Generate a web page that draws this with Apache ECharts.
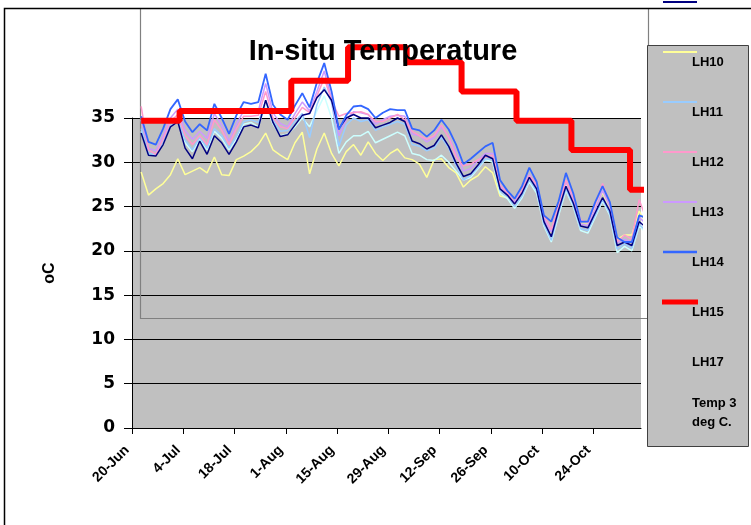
<!DOCTYPE html>
<html>
<head>
<meta charset="utf-8">
<title>In-situ Temperature</title>
<script src="https://cdn.jsdelivr.net/npm/echarts@6/dist/echarts.min.js"></script>
<style>
  html, body { margin: 0; padding: 0; background: #ffffff; }
  #chart { width: 751px; height: 525px; }
</style>
</head>
<body>
<div id="chart"></div>
<script>
// Axis tick labels, one every 14 days starting 20-Jun (day 0)
const tickLabels = ['20-Jun', '4-Jul', '18-Jul', '1-Aug', '15-Aug', '29-Aug', '12-Sep', '26-Sep', '10-Oct', '24-Oct'];
const tickEveryDays = 14;
const lastAxisDay = 139;
const tickDays = tickLabels.map((_, k) => k * tickEveryDays);

// Logger readings: every second day from 22-Jun (plotted mid-day, day 2.5)
const firstReadingDay = 2.5;
const readingStepDays = 2;

const LH10 = [28.9, 26.3, 27.0, 27.6, 28.6, 30.4, 28.6, 29.0, 29.4, 28.8,
              30.6, 28.6, 28.5, 30.3, 30.7, 31.2, 32.0, 33.3, 31.4, 30.8,
              30.3, 32.2, 33.4, 28.7, 31.5, 33.3, 31.0, 29.6, 31.2, 32.0,
              30.8, 32.3, 31.0, 30.2, 31.0, 31.5, 30.5, 30.3, 29.8, 28.3,
              30.3, 30.4, 29.4, 28.8, 27.2, 28.0, 28.5, 29.5, 28.8, 26.2,
              26.0, 25.2, 26.3, 28.1, 27.0, 23.6, 22.0, 24.8, 27.5, 25.6,
              23.0, 23.0, 25.0, 26.6, 24.8, 21.3, 21.8, 21.8, 24.5, 23.0];

const LH11 = [33.8, 31.0, 30.9, 32.4, 34.3, 35.0, 32.5, 31.4, 32.8, 31.6,
              33.8, 33.0, 31.6, 32.9, 34.6, 34.8, 34.5, 37.0, 34.8, 33.5,
              33.6, 34.6, 35.5, 32.8, 36.5, 38.5, 36.8, 31.8, 34.2, 35.0,
              34.6, 34.8, 33.6, 34.0, 34.3, 34.6, 34.3, 32.0, 31.8, 31.3,
              31.6, 32.8, 31.6, 29.6, 28.0, 28.5, 29.4, 30.4, 30.3, 26.8,
              26.2, 25.0, 26.2, 28.0, 26.8, 23.0, 21.2, 24.3, 27.0, 25.2,
              22.5, 22.3, 24.0, 25.8, 24.2, 20.2, 20.8, 20.3, 23.0, 22.2];

const LH12 = [36.3, 31.4, 30.9, 32.6, 34.6, 35.4, 33.0, 32.0, 33.0, 32.0,
              34.8, 33.6, 32.0, 33.8, 35.2, 35.2, 35.3, 38.0, 35.0, 34.0,
              33.8, 35.0, 36.2, 35.6, 37.5, 39.5, 37.0, 35.2, 35.5, 35.6,
              35.7, 35.4, 34.6, 34.6, 35.0, 35.4, 34.8, 33.5, 33.0, 32.6,
              33.0, 34.2, 32.8, 30.6, 29.6, 29.8, 30.3, 30.6, 30.8, 27.4,
              26.6, 25.3, 26.8, 28.5, 27.5, 24.0, 22.4, 25.0, 28.0, 26.0,
              23.5, 23.2, 25.2, 27.6, 25.3, 21.0, 21.8, 21.3, 25.8, 23.5];

const LH13 = [34.8, 31.6, 31.3, 33.0, 35.0, 36.0, 33.6, 32.6, 33.5, 32.7,
              35.5, 34.2, 32.4, 34.3, 35.8, 35.6, 35.8, 38.9, 35.6, 34.4,
              34.0, 35.5, 36.8, 35.8, 38.0, 40.3, 37.2, 33.0, 34.8, 35.7,
              35.6, 35.4, 34.3, 34.8, 35.2, 35.3, 35.2, 33.2, 33.0, 32.3,
              32.8, 34.0, 32.9, 31.0, 29.0, 29.3, 30.2, 31.0, 31.0, 27.3,
              26.5, 25.5, 26.8, 28.6, 27.3, 23.6, 22.1, 24.9, 27.8, 25.8,
              23.0, 22.9, 24.7, 26.8, 25.0, 20.9, 21.3, 21.0, 23.8, 23.0];

const LH14 = [35.2, 32.3, 32.0, 33.8, 36.0, 37.1, 34.6, 33.4, 34.3, 33.6,
              36.6, 35.0, 33.2, 35.3, 36.8, 36.6, 36.8, 40.0, 36.5, 35.4,
              34.8, 36.4, 37.8, 36.2, 39.0, 41.2, 38.0, 33.7, 35.3, 36.3,
              36.4, 36.0, 35.0, 35.6, 36.0, 35.9, 35.9, 33.8, 33.6, 32.9,
              33.6, 34.8, 33.7, 32.0, 29.8, 30.4, 31.1, 31.8, 32.2, 28.0,
              26.8, 25.9, 27.3, 29.4, 27.8, 24.0, 23.3, 25.6, 28.8, 26.5,
              23.3, 23.3, 25.5, 27.3, 25.5, 21.5, 21.0, 21.0, 24.0, 23.7];

const LH16 = [33.5, 30.8, 30.9, 32.2, 34.0, 34.8, 32.2, 31.2, 32.6, 31.4,
              33.5, 32.7, 31.4, 32.6, 34.3, 34.5, 34.0, 36.5, 34.3, 33.0,
              33.2, 34.0, 35.0, 34.0, 35.8, 37.5, 35.0, 31.0, 32.3, 33.0,
              33.0, 33.5, 32.2, 32.6, 33.0, 33.4, 33.0, 31.0, 30.8, 30.3,
              30.2, 30.8, 30.0, 29.0, 28.0, 28.3, 29.3, 30.3, 30.0, 26.5,
              25.9, 24.8, 26.0, 27.8, 26.5, 22.8, 21.0, 24.0, 26.8, 25.0,
              22.3, 22.0, 23.8, 25.6, 24.0, 19.8, 20.5, 20.0, 22.8, 22.0];

const LH17 = [33.3, 30.8, 30.7, 32.0, 34.0, 34.6, 31.6, 30.4, 32.4, 30.9,
              33.0, 32.2, 30.9, 32.3, 34.0, 34.2, 33.9, 37.0, 34.5, 32.9,
              33.1, 34.2, 35.3, 35.5, 37.3, 38.2, 37.0, 33.8, 35.0, 35.4,
              35.0, 35.0, 33.9, 34.2, 34.5, 35.0, 34.6, 32.4, 32.1, 31.5,
              31.9, 33.1, 31.8, 29.9, 28.4, 28.7, 29.7, 30.8, 30.4, 27.0,
              26.3, 25.3, 26.5, 28.3, 27.0, 23.3, 21.6, 24.6, 27.3, 25.4,
              22.8, 22.6, 24.3, 26.0, 24.5, 20.6, 21.0, 20.6, 23.3, 22.6];

// Semi-monthly temperature level (step line): day it starts, value held
const levelDays  = [2.5, 13, 43.5, 59, 75, 90, 105, 120, 136, 140.2];
const levelTemps = [34.7, 35.8, 39.2, 43.0, 41.3, 38.0, 34.7, 31.4, 26.9, 26.9];

function pairUp(values) {
  return values.map((v, k) => [firstReadingDay + k * readingStepDays, v]);
}

const loggerSeries = [
  { name: 'LH10', data: LH10, color: '#FFFF99', width: 1.5 },
  { name: 'LH16', data: LH16, color: '#CCFFFF', width: 1.5 },
  { name: 'LH11', data: LH11, color: '#99CCFF', width: 1.5 },
  { name: 'LH13', data: LH13, color: '#CC99FF', width: 1.5 },
  { name: 'LH12', data: LH12, color: '#FF99CC', width: 1.5 },
  { name: 'LH17', data: LH17, color: '#000080', width: 1.5 },
  { name: 'LH14', data: LH14, color: '#3366FF', width: 1.8 }
];

const series = loggerSeries.map(s => ({
  name: s.name,
  type: 'line',
  data: pairUp(s.data),
  showSymbol: false,
  clip: false,
  lineStyle: { color: s.color, width: s.width },
  itemStyle: { color: s.color },
  emphasis: { disabled: true }
}));

series.push({
  name: 'LH15',
  type: 'line',
  step: 'end',
  data: levelDays.map((d, k) => [d, levelTemps[k]]),
  showSymbol: false,
  clip: false,
  lineStyle: { color: '#FF0000', width: 6 },
  itemStyle: { color: '#FF0000' },
  emphasis: { disabled: true }
});

// Legend panel drawn by hand: sample line sits above-left of each label
const legendRows = [
  { label: 'LH10', color: '#FFFF99', width: 2 },
  { label: 'LH11', color: '#99CCFF', width: 2 },
  { label: 'LH12', color: '#FF99CC', width: 2 },
  { label: 'LH13', color: '#CC99FF', width: 2 },
  { label: 'LH14', color: '#3366FF', width: 2.5 },
  { label: 'LH15', color: '#FF0000', width: 5 },
  { label: 'LH17', color: null, width: 0 },
  { label: 'Temp 3\ndeg C.', color: null, width: 0 }
];

const FONT = '"Liberation Sans", Arial, Helvetica, sans-serif';
const WIDE_FONT = '"DejaVu Sans", Verdana, sans-serif';

const graphics = [
  // outer chart border
  { type: 'rect', z: 50, silent: true,
    shape: { x: 4.5, y: 8.5, width: 800, height: 600 },
    style: { fill: 'none', stroke: '#000000', lineWidth: 1.5 } },
  // secondary frame
  { type: 'polyline', z: 1, silent: true,
    shape: { points: [[140.5, 8], [140.5, 318.5], [648.5, 318.5], [648.5, 8]] },
    style: { fill: 'none', stroke: '#808080', lineWidth: 1.2 } },
  // legend box
  { type: 'rect', z: 40, silent: true,
    shape: { x: 647.5, y: 45.5, width: 101, height: 401 },
    style: { fill: '#C0C0C0', stroke: '#404040', lineWidth: 1 } },
  // navy sample sitting above the panel
  { type: 'line', z: 41, silent: true,
    shape: { x1: 663, y1: 2, x2: 697, y2: 2 },
    style: { stroke: '#000080', lineWidth: 2 } }
];

legendRows.forEach((row, k) => {
  const yLabel = 62 + k * 50;
  if (row.color) {
    graphics.push({ type: 'line', z: 41, silent: true,
      shape: { x1: row.width > 3 ? 662 : 663, y1: yLabel - 10, x2: row.width > 3 ? 698 : 697, y2: yLabel - 10 },
      style: { stroke: row.color, lineWidth: row.width } });
  }
  graphics.push({ type: 'text', z: 42, silent: true,
    x: 692, y: row.label.indexOf('\n') >= 0 ? yLabel + 1 : yLabel,
    style: { text: row.label, fill: '#000000', font: 'bold 13px ' + FONT,
             verticalAlign: 'middle', align: 'left', lineHeight: 19 } });
});

const chart = echarts.init(document.getElementById('chart'), null, { renderer: 'canvas' });
chart.setOption({
  animation: false,
  backgroundColor: '#ffffff',
  title: {
    text: 'In-situ Temperature',
    left: 378, top: 32,
    textAlign: 'center',
    textStyle: { fontFamily: FONT, fontWeight: 'bold', fontSize: 29, color: '#000000' }
  },
  legend: { show: false },
  grid: {
    left: 132, right: 110, top: 118, bottom: 97,
    show: true, backgroundColor: '#C0C0C0', borderWidth: 0
  },
  xAxis: {
    type: 'value',
    min: 0, max: lastAxisDay, interval: tickEveryDays,
    axisLine: { show: true, lineStyle: { color: '#000000', width: 1 } },
    axisTick: { show: true, length: 6, customValues: tickDays, lineStyle: { color: '#000000' } },
    splitLine: { show: false },
    axisLabel: {
      rotate: 45, margin: 15, padding: [0, 7, 0, 0],
      customValues: tickDays,
      fontFamily: FONT, fontWeight: 'bold', fontSize: 14, color: '#000000',
      formatter: v => (tickLabels[Math.round(v / tickEveryDays)] || '')
    }
  },
  yAxis: {
    type: 'value',
    min: 0, max: 35, interval: 5,
    name: 'oC', nameLocation: 'middle', nameGap: 74, nameRotate: 90,
    nameTextStyle: { fontFamily: FONT, fontWeight: 'bold', fontSize: 16, color: '#000000' },
    axisLine: { show: true, lineStyle: { color: '#000000', width: 1 } },
    axisTick: { show: true, length: 8, lineStyle: { color: '#000000' } },
    splitLine: { show: true, lineStyle: { color: '#000000', width: 1 } },
    axisLabel: { margin: 17, fontFamily: WIDE_FONT, fontWeight: 'bold', fontSize: 17, color: '#000000' }
  },
  series: series,
  graphic: graphics
});
</script>
</body>
</html>
